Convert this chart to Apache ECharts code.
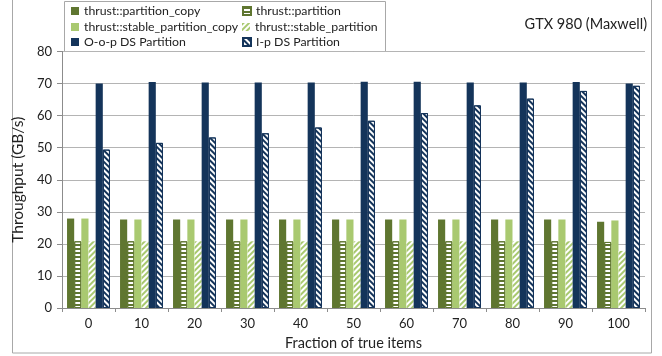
<!DOCTYPE html>
<html>
<head>
<meta charset="utf-8">
<script src="https://cdn.jsdelivr.net/npm/echarts@6/dist/echarts.min.js"></script>
<style>
  html, body { margin: 0; padding: 0; background: #fff; }
  #chart { width: 662px; height: 356px; }
</style>
</head>
<body>
<div id="chart"></div>
<script>
// Fraction of true items (%)
const categories = ['0', '10', '20', '30', '40', '50', '60', '70', '80', '90', '100'];

// Throughput (GB/s) per implementation
const partitionCopy       = [27.9, 27.6, 27.6, 27.6, 27.6, 27.6, 27.6, 27.6, 27.6, 27.6, 26.9];
const partition           = [20.8, 20.8, 20.8, 20.8, 20.8, 20.8, 20.8, 20.8, 20.8, 20.8, 20.6];
const stablePartitionCopy = [27.9, 27.6, 27.6, 27.6, 27.6, 27.6, 27.6, 27.6, 27.6, 27.6, 27.3];
const stablePartition     = [20.8, 20.8, 20.8, 20.8, 20.8, 20.8, 20.8, 20.8, 20.8, 20.8, 17.8];
const oopDsPartition      = [70.0, 70.5, 70.3, 70.3, 70.3, 70.6, 70.6, 70.3, 70.3, 70.5, 70.0];
const ipDsPartition       = [49.4, 51.5, 53.2, 54.5, 56.3, 58.4, 60.8, 63.2, 65.3, 67.7, 69.3];

const yTicks = [0, 10, 20, 30, 40, 50, 60, 70, 80];

const names = [
  'thrust::partition_copy', 'thrust::partition',
  'thrust::stable_partition_copy', 'thrust::stable_partition',
  'O-o-p DS Partition', 'I-p DS Partition'
];

const DARK_GREEN = '#5f7630';
const LIGHT_GREEN = '#a9c970';
const NAVY = '#14345a';
const FONT = 'Lato';

function bar(name, data, itemStyle) {
  return {
    name, type: 'bar', data,
    barGap: '0%', barCategoryGap: '19%',
    itemStyle,
    emphasis: { disabled: true },
    animation: false
  };
}

const series = [
  bar(names[0], partitionCopy, { color: DARK_GREEN }),
  bar(names[1], partition, {
    color: '#fff', borderColor: DARK_GREEN, borderWidth: 1,
    decal: { symbol: 'rect', color: DARK_GREEN, dashArrayX: [1, 0], dashArrayY: [2, 2], symbolSize: 1 }
  }),
  bar(names[2], stablePartitionCopy, { color: LIGHT_GREEN }),
  bar(names[3], stablePartition, {
    color: '#fff',
    decal: { symbol: 'rect', color: LIGHT_GREEN, dashArrayX: [1, 0], dashArrayY: [2, 2], symbolSize: 1, rotation: -Math.PI / 4 }
  }),
  bar(names[4], oopDsPartition, { color: NAVY }),
  bar(names[5], ipDsPartition, {
    color: '#fff', borderColor: NAVY, borderWidth: 1,
    decal: { symbol: 'rect', color: NAVY, dashArrayX: [1, 0], dashArrayY: [2, 2], symbolSize: 1, rotation: Math.PI / 4 }
  })
];

// Two-column legend: one legend block per entry
const legendCols = [71, 242];
const legendRows = [5, 21, 36];
const legend = names.map((n, i) => ({
  data: [n],
  left: legendCols[i % 2],
  top: legendRows[Math.floor(i / 2)],
  padding: 0,
  icon: 'rect',
  itemWidth: 8,
  itemHeight: 8,
  selectedMode: false,
  textStyle: { fontFamily: FONT, fontSize: 12.3, color: '#222' }
}));

const chart = echarts.init(document.getElementById('chart'), null, { renderer: 'canvas' });
chart.setOption({
  animation: false,
  backgroundColor: '#fff',
  textStyle: { fontFamily: FONT },
  grid: { left: 62, right: 17, top: 51.5, bottom: 47, containLabel: false },
  legend,
  graphic: [
    { type: 'rect', z: -10, shape: { x: 12.5, y: -5, width: 639, height: 358 },
      style: { fill: 'none', stroke: '#a8a8a8', lineWidth: 1 } },
    { type: 'rect', z: -5, shape: { x: 64.5, y: 1.5, width: 321, height: 50 },
      style: { fill: '#fff', stroke: '#a8a8a8', lineWidth: 1 } },
    { type: 'text', right: 15, top: 17,
      style: { text: 'GTX 980 (Maxwell)', fontFamily: FONT, fontSize: 14.5, fill: '#222' } }
  ],
  xAxis: {
    type: 'category',
    data: categories,
    name: 'Fraction of true items',
    nameLocation: 'middle',
    nameGap: 28,
    nameTextStyle: { fontFamily: FONT, fontSize: 14.5, color: '#222' },
    axisLine: { lineStyle: { color: '#8c8c8c', width: 1 } },
    axisTick: { show: true, length: 4, lineStyle: { color: '#8c8c8c' } },
    axisLabel: { fontFamily: FONT, fontSize: 13, color: '#222', margin: 9 }
  },
  yAxis: {
    type: 'value',
    min: yTicks[0],
    max: yTicks[yTicks.length - 1],
    interval: 10,
    name: 'Throughput (GB/s)',
    nameLocation: 'middle',
    nameGap: 32,
    nameTextStyle: { fontFamily: FONT, fontSize: 15.5, color: '#222' },
    axisLine: { show: true, lineStyle: { color: '#8c8c8c', width: 1 } },
    axisTick: { show: true, length: 5, lineStyle: { color: '#8c8c8c' } },
    axisLabel: { fontFamily: FONT, fontSize: 13, color: '#222', margin: 10 },
    splitLine: { lineStyle: { color: '#b4b4b4', width: 1 } }
  },
  series
});
</script>
</body>
</html>
